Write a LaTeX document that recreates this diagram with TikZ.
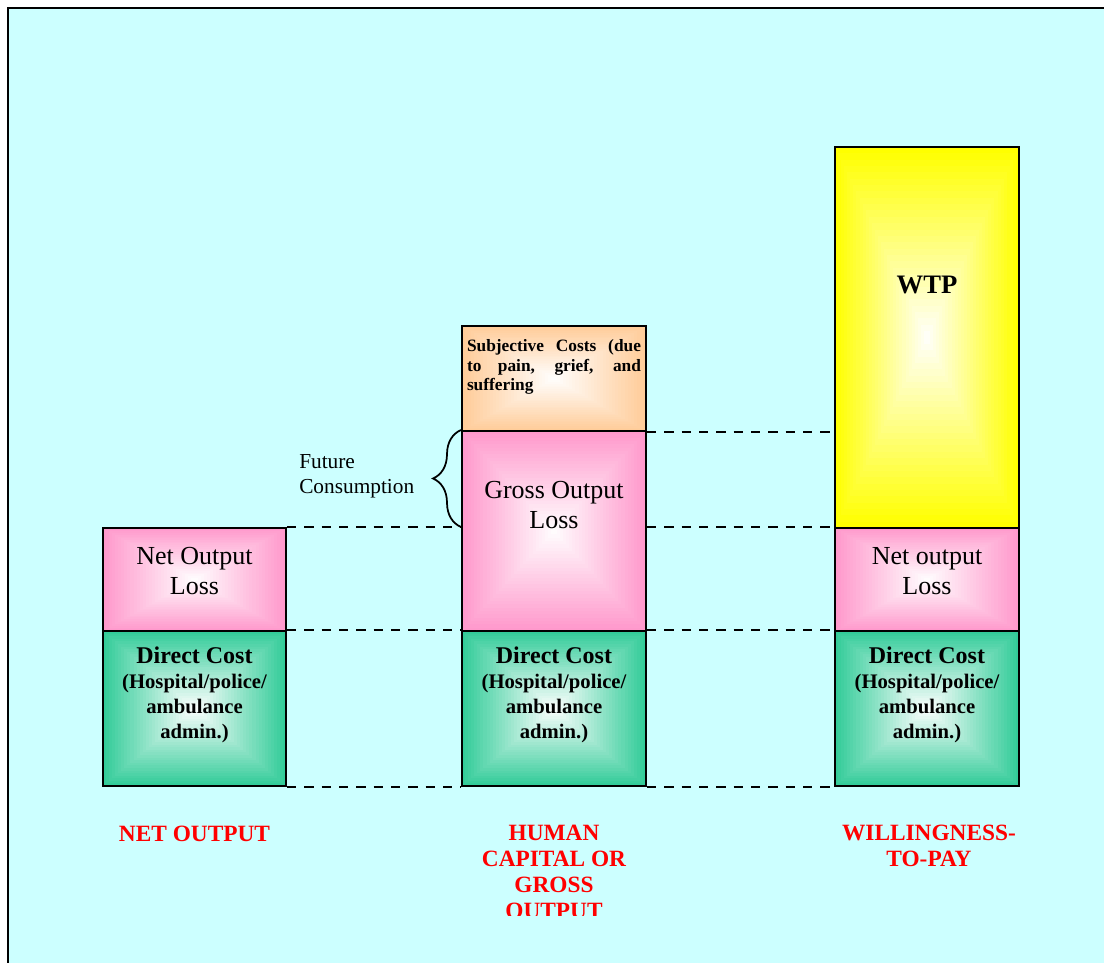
\documentclass[tikz,border=0pt]{standalone}
\usepackage{fontspec}
\setmainfont{Liberation Serif}
\usetikzlibrary{calc,fit,decorations.pathreplacing}
\definecolor{bgcyan}{RGB}{204,255,255}
\definecolor{pinkc}{RGB}{255,153,204}
\definecolor{greenc}{RGB}{51,204,153}
\definecolor{orangec}{RGB}{255,204,153}
\definecolor{yellowc}{RGB}{255,255,0}
\definecolor{redc}{RGB}{255,0,0}
\hbadness=10000
\tikzset{
  gfill/.style={path picture={
    \foreach \k in {0,...,29}{
      \pgfmathsetmacro\f{\k/30}
      \pgfmathsetmacro\p{100*(1-\f)}
      \fill[#1!\p!white] ($(path picture bounding box.south west)!\f!(path picture bounding box.center)$) rectangle ($(path picture bounding box.north east)!\f!(path picture bounding box.center)$);
    }}},
  seg/.style={draw=black, line width=1.5pt, inner sep=0pt, gfill=#1},
  txt/.style={inner sep=0pt, align=center, text=black},
  lossfont/.style={font=\fontsize{19.5}{22.5}\selectfont},
  dcfont/.style={font=\fontsize{15.5}{18.75}\selectfont\bfseries},
  redlabel/.style={inner sep=0pt, align=center, text=redc, font=\fontsize{17.5}{19.5}\selectfont\bfseries},
  dashline/.style={line width=1.5pt, dash pattern=on 7pt off 6pt},
}
\begin{document}
\begin{tikzpicture}[x=0.75pt, y=-0.75pt]
\useasboundingbox (0,0) rectangle (1104,963);
\clip (0,0) rectangle (1104,963);
\fill[white] (0,0) rectangle (1104,963);
\draw[line width=1.5pt, fill=bgcyan] (8,8) rectangle (1130,990);

% bar 1
\node[seg=pinkc, fit={(103,528) (286,631)}] (nol1) {};
\node[seg=greenc, fit={(103,631) (286,786)}] (dc1) {};
% bar 2
\node[seg=orangec, fit={(462,326) (646,431)}] (sub) {};
\node[seg=pinkc, fit={(462,431) (646,631)}] (gol) {};
\node[seg=greenc, fit={(462,631) (646,786)}] (dc2) {};
% bar 3
\node[seg=yellowc, fit={(835,147) (1019,528)}] (wtp) {};
\node[seg=pinkc, fit={(835,528) (1019,631)}] (nol3) {};
\node[seg=greenc, fit={(835,631) (1019,786)}] (dc3) {};

% texts in boxes
\node[txt, lossfont] (tnol1) at (194.5,571) {Net Output\\Loss};
\node[txt, lossfont] (tgol) at (554,505) {Gross Output\\Loss};
\node[txt, lossfont] (tnol3) at (927,571) {Net output\\Loss};
\node[txt, dcfont] (tdc1) at (194.5,695) {{\fontsize{18}{18.75}\selectfont Direct Cost}\\(Hospital/police/\\ambulance\\admin.)};
\node[txt, dcfont] (tdc2) at (554,695) {{\fontsize{18}{18.75}\selectfont Direct Cost}\\(Hospital/police/\\ambulance\\admin.)};
\node[txt, dcfont] (tdc3) at (927,695) {{\fontsize{18}{18.75}\selectfont Direct Cost}\\(Hospital/police/\\ambulance\\admin.)};
\node[inner sep=0pt, text width=130.5pt, align=justify, font=\fontsize{13}{14.6}\selectfont\bfseries] (tsub) at (554,367) {Subjective Costs (due\linebreak to pain, grief, and\linebreak \mbox{suffering}};
\node[txt, font=\fontsize{20}{22}\selectfont\bfseries] (twtp) at (927,285) {WTP};

% dashed connectors
\draw[dashline] (nol1.north east) -- (nol1.north east -| gol.west);
\draw[dashline] (dc1.north east) -- (dc2.north west);
\draw[dashline] (dc1.south east) -- (dc2.south west);
\draw[dashline] (sub.south east) -- (sub.south east -| wtp.west);
\draw[dashline] (gol.east |- nol3.north west) -- (nol3.north west);
\draw[dashline] (dc2.north east) -- (dc3.north west);
\draw[dashline] (dc2.south east) -- (dc3.south west);

% brace
\draw[line width=1.3pt, decorate, decoration={brace, amplitude=21pt}] (gol.west |- nol1.north) -- (gol.north west);
\node[inner sep=0pt, anchor=west, align=left, font=\fontsize{16}{18.75}\selectfont] (tfc) at (299,476.5) {Future\\Consumption};

% red labels
\node[redlabel] (lnet) at (194.5,834) {NET OUTPUT};
\begin{scope}
\clip (430,800) rectangle (680,915.5);
\node[redlabel] (lhc) at (554,872) {HUMAN\\CAPITAL OR\\GROSS\\OUTPUT};
\end{scope}
\node[redlabel] (lwtp) at (929,846) {WILLINGNESS-\\TO-PAY};
\end{tikzpicture}
\end{document}
